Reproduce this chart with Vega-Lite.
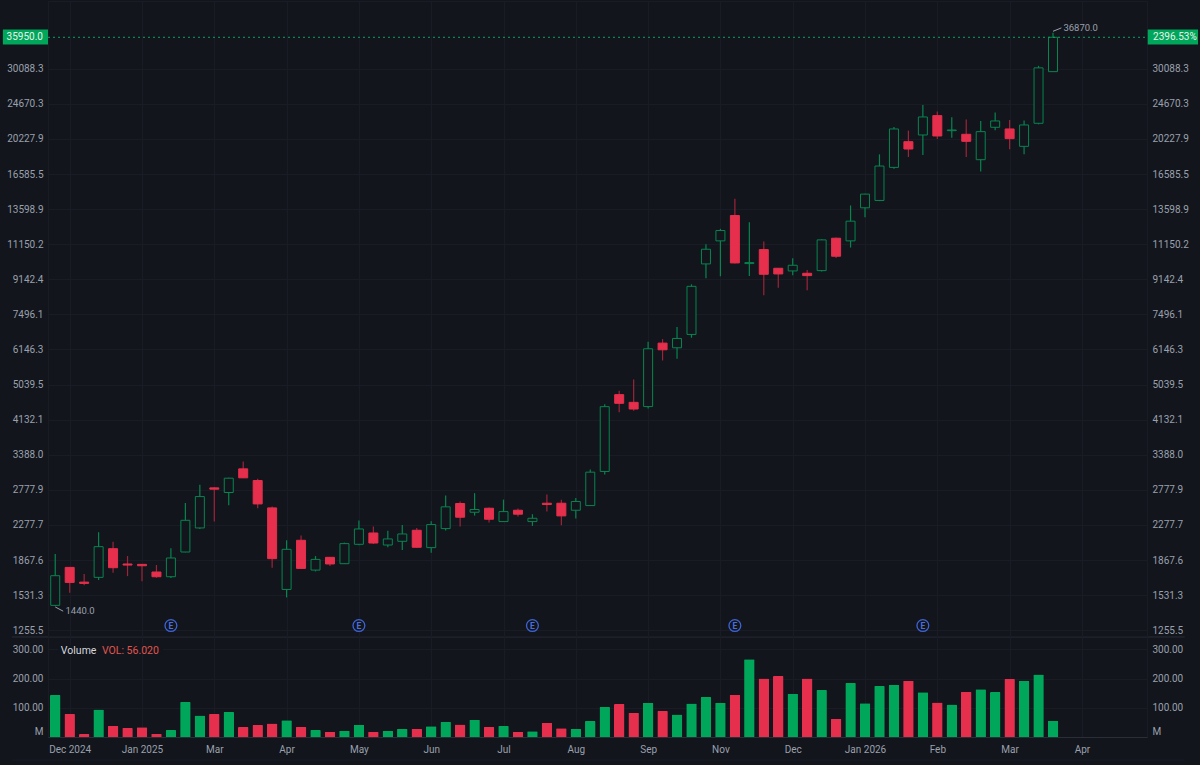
{"$schema":"https://vega.github.io/schema/vega-lite/v6.json","background":"#12151c","padding":0,"spacing":0,"bounds":"flush","resolve":{"scale":{"color":"independent"}},"config":{"view":{"stroke":"#191c24"},"axis":{"labelFont":"Roboto","labelFontSize":10,"labelColor":"#9aa0ac","ticks":false,"domain":false,"title":null,"gridColor":"#191c24","gridWidth":1},"text":{"font":"Roboto"}},"datasets":{"candles":[
{"i":0,"o":1445,"h":1932,"l":1440,"c":1709,"vol":144,"dir":"up"},
{"i":1,"o":1791,"h":1791,"l":1552,"c":1645,"vol":79,"dir":"down"},
{"i":2,"o":1648,"h":1725,"l":1618,"c":1636,"vol":10,"dir":"down"},
{"i":3,"o":1693,"h":2185,"l":1667,"c":2014,"vol":94,"dir":"up"},
{"i":4,"o":1991,"h":2072,"l":1738,"c":1788,"vol":38,"dir":"down"},
{"i":5,"o":1826,"h":1910,"l":1705,"c":1815,"vol":31,"dir":"down"},
{"i":6,"o":1822,"h":1826,"l":1655,"c":1808,"vol":33,"dir":"down"},
{"i":7,"o":1745,"h":1815,"l":1689,"c":1699,"vol":11.5,"dir":"down"},
{"i":8,"o":1699,"h":1995,"l":1686,"c":1889,"vol":24,"dir":"up"},
{"i":9,"o":1954,"h":2580,"l":1950,"c":2338,"vol":120,"dir":"up"},
{"i":10,"o":2239,"h":2857,"l":2226,"c":2674,"vol":74,"dir":"up"},
{"i":11,"o":2809,"h":2819,"l":2321,"c":2788,"vol":79,"dir":"down"},
{"i":12,"o":2736,"h":2973,"l":2546,"c":2967,"vol":86,"dir":"up"},
{"i":13,"o":3128,"h":3261,"l":2970,"c":2973,"vol":34,"dir":"down"},
{"i":14,"o":2928,"h":2956,"l":2503,"c":2565,"vol":41,"dir":"down"},
{"i":15,"o":2508,"h":2527,"l":1788,"c":1882,"vol":46,"dir":"down"},
{"i":16,"o":1581,"h":2088,"l":1511,"c":1984,"vol":57,"dir":"up"},
{"i":17,"o":2088,"h":2144,"l":1778,"c":1781,"vol":34,"dir":"down"},
{"i":18,"o":1764,"h":1910,"l":1751,"c":1874,"vol":24,"dir":"up"},
{"i":19,"o":1896,"h":1900,"l":1805,"c":1826,"vol":18,"dir":"down"},
{"i":20,"o":1829,"h":2060,"l":1826,"c":2049,"vol":21,"dir":"up"},
{"i":21,"o":2041,"h":2334,"l":2029,"c":2226,"vol":42,"dir":"up"},
{"i":22,"o":2176,"h":2256,"l":2045,"c":2056,"vol":18,"dir":"down"},
{"i":23,"o":2033,"h":2205,"l":2006,"c":2104,"vol":21,"dir":"up"},
{"i":24,"o":2076,"h":2278,"l":1977,"c":2164,"vol":28,"dir":"up"},
{"i":25,"o":2210,"h":2239,"l":2003,"c":2007,"vol":28,"dir":"down"},
{"i":26,"o":2003,"h":2326,"l":1947,"c":2282,"vol":37,"dir":"up"},
{"i":27,"o":2231,"h":2690,"l":2206,"c":2523,"vol":52,"dir":"up"},
{"i":28,"o":2571,"h":2600,"l":2256,"c":2379,"vol":43,"dir":"down"},
{"i":29,"o":2447,"h":2726,"l":2401,"c":2485,"vol":59,"dir":"up"},
{"i":30,"o":2503,"h":2513,"l":2308,"c":2352,"vol":34,"dir":"down"},
{"i":31,"o":2321,"h":2629,"l":2318,"c":2456,"vol":38,"dir":"up"},
{"i":32,"o":2475,"h":2499,"l":2388,"c":2420,"vol":18,"dir":"down"},
{"i":33,"o":2321,"h":2420,"l":2265,"c":2365,"vol":20,"dir":"up"},
{"i":34,"o":2575,"h":2705,"l":2456,"c":2556,"vol":49,"dir":"down"},
{"i":35,"o":2575,"h":2625,"l":2273,"c":2397,"vol":30,"dir":"down"},
{"i":36,"o":2475,"h":2654,"l":2361,"c":2600,"vol":28,"dir":"up"},
{"i":37,"o":2541,"h":3117,"l":2535,"c":3070,"vol":55,"dir":"up"},
{"i":38,"o":3082,"h":4506,"l":3030,"c":4447,"vol":103,"dir":"up"},
{"i":39,"o":4760,"h":4869,"l":4306,"c":4532,"vol":113,"dir":"down"},
{"i":40,"o":4557,"h":5185,"l":4347,"c":4388,"vol":83,"dir":"down"},
{"i":41,"o":4449,"h":6419,"l":4399,"c":6170,"vol":117,"dir":"up"},
{"i":42,"o":6371,"h":6517,"l":5775,"c":6135,"vol":89,"dir":"down"},
{"i":43,"o":6205,"h":6976,"l":5830,"c":6542,"vol":77,"dir":"up"},
{"i":44,"o":6692,"h":8886,"l":6567,"c":8785,"vol":115,"dir":"up"},
{"i":45,"o":9973,"h":11150,"l":9194,"c":10837,"vol":137,"dir":"up"},
{"i":46,"o":11362,"h":12162,"l":9299,"c":12047,"vol":117,"dir":"up"},
{"i":47,"o":13117,"h":14417,"l":10000,"c":10029,"vol":145,"dir":"down"},
{"i":48,"o":9992,"h":12630,"l":9317,"c":10048,"vol":266,"dir":"up"},
{"i":49,"o":10817,"h":11319,"l":8350,"c":9406,"vol":200,"dir":"down"},
{"i":50,"o":9730,"h":9750,"l":8720,"c":9423,"vol":209,"dir":"down"},
{"i":51,"o":9585,"h":10299,"l":9352,"c":9898,"vol":148,"dir":"up"},
{"i":52,"o":9459,"h":9639,"l":8589,"c":9334,"vol":200,"dir":"down"},
{"i":53,"o":9602,"h":11470,"l":9549,"c":11426,"vol":161,"dir":"up"},
{"i":54,"o":11535,"h":11579,"l":10318,"c":10416,"vol":62,"dir":"down"},
{"i":55,"o":11362,"h":13883,"l":10940,"c":12702,"vol":185,"dir":"up"},
{"i":56,"o":13700,"h":14831,"l":12993,"c":14803,"vol":116,"dir":"up"},
{"i":57,"o":14281,"h":18538,"l":14227,"c":17351,"vol":175,"dir":"up"},
{"i":58,"o":17221,"h":21645,"l":17090,"c":21401,"vol":179,"dir":"up"},
{"i":59,"o":19918,"h":21199,"l":18259,"c":19106,"vol":193,"dir":"down"},
{"i":60,"o":20686,"h":24521,"l":18467,"c":22906,"vol":153,"dir":"up"},
{"i":61,"o":23082,"h":23611,"l":20222,"c":20569,"vol":118,"dir":"down"},
{"i":62,"o":21199,"h":22864,"l":20375,"c":21279,"vol":111,"dir":"up"},
{"i":63,"o":20764,"h":22563,"l":18259,"c":19955,"vol":155,"dir":"down"},
{"i":64,"o":17986,"h":22394,"l":16833,"c":21080,"vol":164,"dir":"up"},
{"i":65,"o":21605,"h":23477,"l":21239,"c":22394,"vol":154,"dir":"up"},
{"i":66,"o":21401,"h":22521,"l":19070,"c":20261,"vol":199,"dir":"down"},
{"i":67,"o":19397,"h":22437,"l":18538,"c":21892,"vol":193,"dir":"up"},
{"i":68,"o":22099,"h":30588,"l":21974,"c":30243,"vol":214,"dir":"up"},
{"i":69,"o":29600,"h":36870,"l":29600,"c":35950,"vol":56.02,"dir":"up"}
],"events":[{"i":8,"p":1289,"t":"E"},{"i":21,"p":1289,"t":"E"},{"i":33,"p":1289,"t":"E"},{"i":47,"p":1289,"t":"E"},{"i":60,"p":1289,"t":"E"}],
"leaders":[{"a":0,"b":0.55,"p":1432,"q":1398},{"a":69,"b":69.58,"p":37192,"q":37914}],
"notes":[{"a":0.71,"p":1398,"t":"1440.0"},{"a":69.72,"p":37914,"t":"36870.0"}],
"tags":[{"a":-3.62,"b":-0.5,"p":34495,"q":37551},{"a":75.55,"b":79.03,"p":34495,"q":37551}]},
"vconcat":[
{"width":1099,"height":635,"layer":[
{"data":{"values":[{"a":-3,"b":78.1,"p":1208.1}]},"mark":{"type":"rule","color":"#2a2e37","strokeWidth":1},"encoding":{"x":{"field":"a","type":"quantitative","scale":{"domain":[-0.5,75.5],"nice":false,"zero":false,"padding":0},"axis":{"values":[1,6,11,16,21,26,31,36,41,46,51,56,61,66,71],"labels":false,"grid":true,"minExtent":0,"maxExtent":0}},"x2":{"field":"b"},"y":{"field":"p","type":"quantitative","scale":{"type":"log","domain":[1214.9,44145],"nice":false},"axis":{"orient":"left","values":[1255.5,1531.3,1867.6,2277.7,2777.9,3388.0,4132.1,5039.5,6146.3,7496.1,9142.4,11150.2,13598.9,16585.5,20227.9,24670.3,30088.3],"labelExpr":"format(datum.value,'.1f')","labelPadding":5,"grid":true,"minExtent":47,"maxExtent":47}}}},
{"data":{"name":"candles"},"mark":{"type":"rule","strokeWidth":1.2},"encoding":{"x":{"field":"i","type":"quantitative"},"y":{"field":"l","type":"quantitative","axis":{"orient":"right","values":[1255.5,1531.3,1867.6,2277.7,2777.9,3388.0,4132.1,5039.5,6146.3,7496.1,9142.4,11150.2,13598.9,16585.5,20227.9,24670.3,30088.3],"labelExpr":"format(datum.value,'.1f')","labelPadding":5,"grid":false,"minExtent":53,"maxExtent":53}},"y2":{"field":"h"},"color":{"field":"dir","type":"nominal","legend":null,"scale":{"domain":["up","down"],"range":["#07854f","#9e2439"]}}}},
{"data":{"name":"candles"},"mark":{"type":"bar","orient":"vertical","size":9,"strokeWidth":1},"encoding":{"x":{"field":"i","type":"quantitative"},"y":{"field":"o","type":"quantitative","axis":null},"y2":{"field":"c"},"fill":{"field":"dir","type":"nominal","legend":null,"scale":{"domain":["up","down"],"range":["#12151c","#e62f4c"]}},"stroke":{"field":"dir","type":"nominal","legend":null,"scale":{"domain":["up","down"],"range":["#07854f","#e62f4c"]}}}},
{"data":{"values":[{"a":-0.5,"b":75.5,"p":35950}]},"mark":{"type":"rule","color":"#0fa35f","strokeWidth":1,"strokeDash":[2,3]},"encoding":{"x":{"field":"a","type":"quantitative"},"x2":{"field":"b"},"y":{"field":"p","type":"quantitative","axis":null}}},
{"data":{"name":"tags"},"mark":{"type":"rect","color":"#00a65a"},"encoding":{"x":{"field":"a","type":"quantitative"},"x2":{"field":"b"},"y":{"field":"p","type":"quantitative","axis":null},"y2":{"field":"q"}}},
{"data":{"values":[{"a":-0.85,"p":35950,"t":"35950.0"}]},"mark":{"type":"text","align":"right","baseline":"middle","fontSize":10,"color":"#e6f5ec"},"encoding":{"x":{"field":"a","type":"quantitative"},"y":{"field":"p","type":"quantitative","axis":null},"text":{"field":"t"}}},
{"data":{"values":[{"a":75.92,"p":35950,"t":"2396.53%"}]},"mark":{"type":"text","align":"left","baseline":"middle","fontSize":10,"color":"#e6f5ec"},"encoding":{"x":{"field":"a","type":"quantitative"},"y":{"field":"p","type":"quantitative","axis":null},"text":{"field":"t"}}},
{"data":{"name":"leaders"},"mark":{"type":"rule","color":"#9aa0ac","strokeWidth":1},"encoding":{"x":{"field":"a","type":"quantitative"},"x2":{"field":"b"},"y":{"field":"p","type":"quantitative","axis":null},"y2":{"field":"q"}}},
{"data":{"name":"notes"},"mark":{"type":"text","align":"left","baseline":"middle","fontSize":9.5,"color":"#9aa0ac"},"encoding":{"x":{"field":"a","type":"quantitative"},"y":{"field":"p","type":"quantitative","axis":null},"text":{"field":"t"}}},
{"data":{"name":"events"},"mark":{"type":"point","shape":"circle","size":140,"filled":false,"color":"#3e63d6","opacity":1,"strokeWidth":1.3},"encoding":{"x":{"field":"i","type":"quantitative"},"y":{"field":"p","type":"quantitative","axis":null}}},
{"data":{"name":"events"},"mark":{"type":"text","align":"center","baseline":"middle","fontSize":8.5,"fontWeight":"bold","color":"#4a6fdc"},"encoding":{"x":{"field":"i","type":"quantitative"},"y":{"field":"p","type":"quantitative","axis":null},"text":{"field":"t"}}}
],"resolve":{"axis":{"y":"independent"}}},
{"width":1099,"height":101,"layer":[
{"data":{"name":"candles"},"mark":{"type":"bar","orient":"vertical","size":10.5,"cornerRadiusEnd":1},"encoding":{"x":{"field":"i","type":"quantitative","scale":{"domain":[-0.5,75.5],"nice":false,"zero":false,"padding":0},"axis":{"values":[1,6,11,16,21,26,31,36,41,46,51,56,61,66,71],"grid":true,"domain":true,"domainColor":"#2a2e37","labelPadding":7,"labelExpr":"['Dec 2024','Jan 2025','Mar','Apr','May','Jun','Jul','Aug','Sep','Nov','Dec','Jan 2026','Feb','Mar','Apr'][(datum.value-1)/5]","minExtent":28,"maxExtent":28}},"y":{"field":"vol","type":"quantitative","scale":{"domain":[0,346],"nice":false},"axis":{"orient":"left","values":[20,100,200,300],"labelExpr":"datum.value==20?'M':format(datum.value,'.2f')","labelPadding":5,"grid":true,"gridOpacity":{"condition":{"test":"datum.value==20","value":0},"value":1},"minExtent":47,"maxExtent":47}},"color":{"field":"dir","type":"nominal","legend":null,"scale":{"domain":["up","down"],"range":["#00a65a","#e62f4c"]}}}},
{"data":{"values":[{"a":0.19,"b":7.45,"v":285,"w":315}]},"mark":{"type":"rect","color":"#12151c"},"encoding":{"x":{"field":"a","type":"quantitative"},"x2":{"field":"b"},"y":{"field":"v","type":"quantitative","axis":{"orient":"right","values":[20,100,200,300],"labelExpr":"datum.value==20?'M':format(datum.value,'.2f')","labelPadding":5,"grid":false,"minExtent":53,"maxExtent":53}},"y2":{"field":"w"}}},
{"data":{"values":[{"a":0.39,"v":295,"t":"Volume"}]},"mark":{"type":"text","align":"left","baseline":"middle","fontSize":10.5,"color":"#d5d8de"},"encoding":{"x":{"field":"a","type":"quantitative"},"y":{"field":"v","type":"quantitative","axis":null},"text":{"field":"t"}}},
{"data":{"values":[{"a":3.23,"v":295,"t":"VOL: 56.020"}]},"mark":{"type":"text","align":"left","baseline":"middle","fontSize":10.5,"color":"#e0564f"},"encoding":{"x":{"field":"a","type":"quantitative"},"y":{"field":"v","type":"quantitative","axis":null},"text":{"field":"t"}}},
{"data":{"values":[{"a":-3,"b":78.1,"v":-79}]},"mark":{"type":"rule","color":"#191c24","strokeWidth":1},"encoding":{"x":{"field":"a","type":"quantitative"},"x2":{"field":"b"},"y":{"field":"v","type":"quantitative","axis":null}}}
],"resolve":{"axis":{"y":"independent"}}}
]}
